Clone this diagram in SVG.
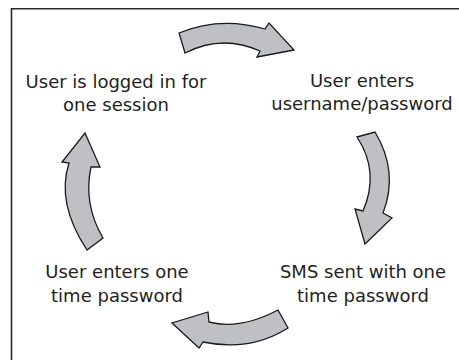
<svg xmlns="http://www.w3.org/2000/svg" width="459" height="360" viewBox="0 0 459 360">
<style>
.lbl{font-family:"DejaVu Sans",sans-serif;font-size:18px;fill:#231f20;text-anchor:middle}
.arr{fill:#bfc0c4;stroke:#1a1a1a;stroke-width:1.3;stroke-linejoin:miter}
.frame{fill:none;stroke:#2a2a2a;stroke-width:1.6}
</style>
<rect width="459" height="360" fill="#ffffff"/>
<path class="frame" d="M11.5,360 L11.5,8.8 L459,8.8"/>
<g id="connectors">
<path id="arrow-top" class="arr" d="M179,33 Q220,16 265,29 L269,23 L294,50 L257,57 L260,51 Q222,34 185,53 Z"/>
<path id="arrow-right" class="arr" d="M357,137 L375,132 Q399,172 383,213 L392,218 L365,244 L355,209 L363,211 Q380,172 357,137 Z"/>
<path id="arrow-bottom" class="arr" d="M278,310 L288,328 Q250,352 203,342 L199,348 L172,323 L208,312 L209,322 Q240,330 278,310 Z"/>
<path id="arrow-left" class="arr" d="M87,250 Q56,203 69,163 L62,162 L85,133 L100,167 L91,167 Q83,204 103,238 Z"/>
</g>
<g id="node-logged-in">
<text class="lbl" x="116" y="88">User is logged in for</text>
<text class="lbl" x="116" y="111">one session</text>
</g>
<g id="node-enter-credentials">
<text class="lbl" x="362" y="87">User enters</text>
<text class="lbl" x="362" y="110">username/password</text>
</g>
<g id="node-sms-sent">
<text class="lbl" x="363" y="278">SMS sent with one</text>
<text class="lbl" x="363" y="302">time password</text>
</g>
<g id="node-enter-otp">
<text class="lbl" x="117" y="278">User enters one</text>
<text class="lbl" x="117" y="302">time password</text>
</g>
</svg>
